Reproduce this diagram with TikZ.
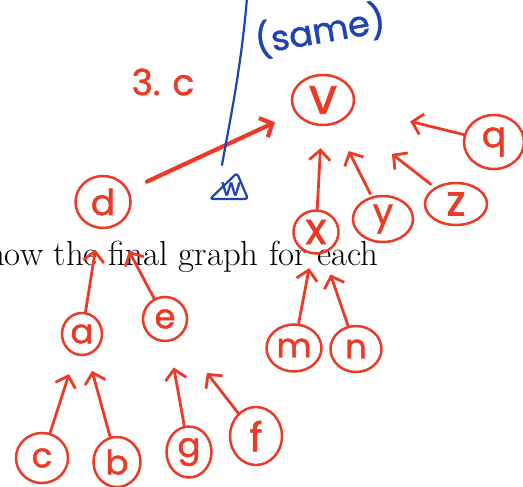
\documentclass[tikz,border=0pt]{standalone}
\usepackage{fontspec}
\newfontfamily\handfont[FakeBold=1.3]{Poppins}
\usetikzlibrary{arrows.meta, shapes.geometric}
\definecolor{inkred}{RGB}{235,58,38}
\definecolor{inkblue}{RGB}{28,68,178}

\begin{document}
\begin{tikzpicture}[x=1pt, y=-1pt,
    vertex/.style={ellipse, draw=inkred, line width=2.5pt, inner sep=0pt,
                   text=inkred, font=\handfont\fontsize{#1}{#1}\selectfont},
    vertex/.default=34,
    arrow/.style={-{Straight Barb[length=10pt, width=21pt]}, line width=2.8pt,
                  inkred, line cap=round},
    note/.style={text=inkred, font=\handfont\fontsize{36}{36}\selectfont},
    bluenote/.style={text=inkblue, font=\handfont\fontsize{35}{35}\selectfont},
    blueink/.style={draw=inkblue, line width=2.2pt, line cap=round, line join=round}
  ]
  \useasboundingbox (0,0) rectangle (523,487);

  % printed text of the sheet
  \node[anchor=base west, inner sep=0pt, font=\fontsize{34.8}{42}\selectfont]
    (line) at (-13,265) {how the final graph for each};

  % red graph
  \node[vertex=50, minimum width=62pt, minimum height=50pt] (v) at (323,100) {v};
  \node[vertex=36, minimum width=55pt, minimum height=52pt] (d) at (103,202) {d};
  \node[vertex=44, minimum width=45pt, minimum height=43pt] (x) at (316,232) {x};
  \node[vertex=36, minimum width=60pt, minimum height=46pt] (y) at (383,219) {y};
  \node[vertex=42, minimum width=62pt, minimum height=42pt] (z) at (456,204) {z};
  \node[vertex=36, minimum width=60pt, minimum height=54pt] (q) at (494,142) {q};
  \node[vertex, minimum width=40pt, minimum height=42pt] (a) at (82,334) {a};
  \node[vertex, minimum width=44pt, minimum height=44pt] (e) at (165,319) {e};
  \node[vertex, minimum width=55pt, minimum height=47pt] (m) at (294,348) {m};
  \node[vertex, minimum width=51pt, minimum height=46pt] (n) at (356,349) {n};
  \node[vertex, minimum width=52pt, minimum height=50pt] (c) at (42,458) {c};
  \node[vertex, minimum width=47pt, minimum height=50pt] (b) at (117,462) {b};
  \node[vertex, minimum width=45pt, minimum height=51pt] (g) at (189,452) {g};
  \node[vertex=40, minimum width=52pt, minimum height=58pt] (f) at (256,436) {f};

  \draw[arrow, line width=4.2pt, shorten <=20pt, shorten >=22pt] (d) -- (v);
  \foreach \a/\b/\gapin/\gapout in {x/v/0/22, y/v/3/30, z/v/5/58, q/v/0/58,
      m/x/0/14, n/x/0/22, a/d/0/21, e/d/0/28, c/a/0/20, b/a/0/16,
      g/e/0/26, f/e/0/45}
    \draw[arrow, shorten <=\gapin pt, shorten >=\gapout pt] (\a) -- (\b);

  \node[note] (part) at (163,82) {3.\hspace{12pt}c};

  % blue marks
  \node[bluenote, rotate=10] (same) at (320,30) {(same)};
  \draw[blueink] (247,-2) .. controls (241,70) and (229,125) .. (222,165);
  \draw[blueink, rounded corners=3pt] (210,199) -- (237,173) -- (248,199) -- cycle;
  \node[text=inkblue, font=\handfont\fontsize{24}{24}\selectfont] (w) at (231,189) {w};
\end{tikzpicture}
\end{document}
